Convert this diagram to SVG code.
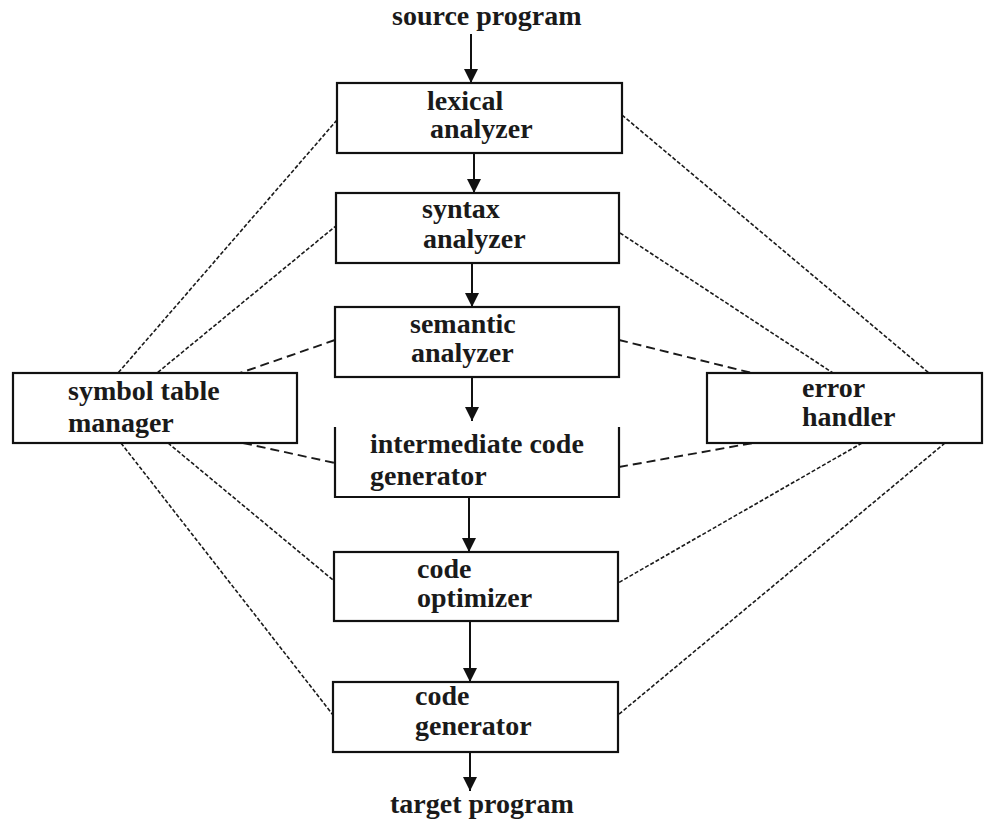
<svg xmlns="http://www.w3.org/2000/svg" width="984" height="821" viewBox="0 0 984 821">
  <style>
    .box { fill: #ffffff; stroke: #111111; stroke-width: 2.2; }
    .lbl { font-family: "Liberation Serif", "Times New Roman", serif; font-weight: bold; font-size: 28px; fill: #1a1a1a; }
    .flow { stroke: #111111; stroke-width: 2; fill: none; }
    .dot { stroke: #1a1a1a; stroke-width: 1.6; stroke-dasharray: 4 2; fill: none; }
    .dash { stroke: #1a1a1a; stroke-width: 1.9; stroke-dasharray: 9 5; fill: none; }
  </style>
  <defs>
    <marker id="head" markerUnits="userSpaceOnUse" markerWidth="14" markerHeight="14" viewBox="0 0 14 14" refX="14" refY="7" orient="auto">
      <path d="M0,0 L14,7 L0,14 Z" fill="#111111"/>
    </marker>
  </defs>

  <rect width="984" height="821" fill="#ffffff"/>

  <!-- connectors -->
  <g id="connectors">
    <!-- main pipeline -->
    <line class="flow" x1="471" y1="34" x2="471" y2="83" marker-end="url(#head)"/>
    <line class="flow" x1="474" y1="153" x2="474" y2="193" marker-end="url(#head)"/>
    <line class="flow" x1="472" y1="263" x2="472" y2="307" marker-end="url(#head)"/>
    <line class="flow" x1="472" y1="377" x2="472" y2="421" marker-end="url(#head)"/>
    <line class="flow" x1="469" y1="497" x2="469" y2="552" marker-end="url(#head)"/>
    <line class="flow" x1="470" y1="621" x2="470" y2="682" marker-end="url(#head)"/>
    <line class="flow" x1="470" y1="752" x2="470" y2="791" marker-end="url(#head)"/>

    <!-- symbol table manager links -->
    <line class="dot" x1="337" y1="120" x2="118" y2="373"/>
    <line class="dot" x1="337" y1="225" x2="157" y2="373"/>
    <line class="dash" x1="335" y1="340" x2="240" y2="373"/>
    <line class="dash" x1="243" y1="443" x2="335" y2="463"/>
    <line class="dot" x1="168" y1="443" x2="333" y2="580"/>
    <line class="dot" x1="121" y1="443" x2="333" y2="715"/>

    <!-- error handler links -->
    <line class="dot" x1="622" y1="115" x2="929" y2="373"/>
    <line class="dot" x1="620" y1="233" x2="833" y2="373"/>
    <line class="dash" x1="619" y1="340" x2="752" y2="373"/>
    <line class="dash" x1="619" y1="467" x2="753" y2="443"/>
    <line class="dot" x1="862" y1="443" x2="618" y2="583"/>
    <line class="dot" x1="945" y1="443" x2="618" y2="715"/>
  </g>

  <!-- pipeline ends -->
  <g id="source">
    <text class="lbl" x="392" y="25">source program</text>
  </g>
  <g id="target">
    <text class="lbl" x="390" y="813">target program</text>
  </g>

  <!-- phases -->
  <g id="lexical">
    <rect class="box" x="337" y="83" width="285" height="70"/>
    <text class="lbl" x="427" y="110">lexical</text>
    <text class="lbl" x="430" y="138">analyzer</text>
  </g>
  <g id="syntax">
    <rect class="box" x="336" y="193" width="283" height="70"/>
    <text class="lbl" x="422" y="218">syntax</text>
    <text class="lbl" x="423" y="248">analyzer</text>
  </g>
  <g id="semantic">
    <rect class="box" x="335" y="307" width="284" height="70"/>
    <text class="lbl" x="410" y="333">semantic</text>
    <text class="lbl" x="411" y="362">analyzer</text>
  </g>
  <g id="intermediate">
    <path class="box" d="M335,427 L335,497 L619,497 L619,427"/>
    <text class="lbl" x="370" y="453">intermediate code</text>
    <text class="lbl" x="370" y="485">generator</text>
  </g>
  <g id="optimizer">
    <rect class="box" x="334" y="552" width="284" height="69"/>
    <text class="lbl" x="417" y="578">code</text>
    <text class="lbl" x="417" y="607">optimizer</text>
  </g>
  <g id="codegen">
    <rect class="box" x="333" y="682" width="285" height="70"/>
    <text class="lbl" x="415" y="705">code</text>
    <text class="lbl" x="415" y="735">generator</text>
  </g>

  <!-- side components -->
  <g id="symtab">
    <rect class="box" x="13" y="373" width="284" height="70"/>
    <text class="lbl" x="68" y="400">symbol table</text>
    <text class="lbl" x="68" y="432">manager</text>
  </g>
  <g id="errors">
    <rect class="box" x="707" y="373" width="275" height="70"/>
    <text class="lbl" x="802" y="397">error</text>
    <text class="lbl" x="802" y="426">handler</text>
  </g>
</svg>
